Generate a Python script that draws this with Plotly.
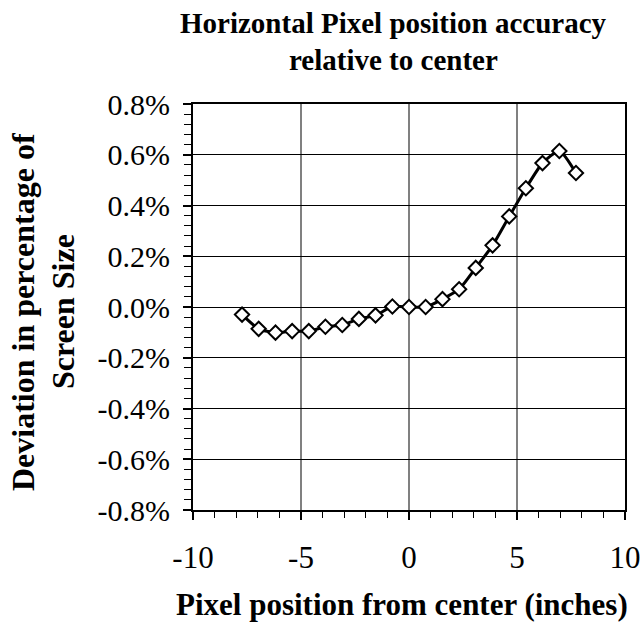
import plotly.graph_objects as go

# Data
x_pos = [-7.73, -6.96, -6.18, -5.41, -4.64, -3.87, -3.09, -2.32, -1.55, -0.77, 0.0,
         0.77, 1.55, 2.32, 3.09, 3.87, 4.64, 5.41, 6.18, 6.96, 7.73]
deviation_pct = [-0.030, -0.086, -0.101, -0.095, -0.095, -0.078, -0.071, -0.047, -0.033, 0.002, 0.0,
                 0.0, 0.031, 0.070, 0.154, 0.243, 0.357, 0.468, 0.567, 0.615, 0.528]

x_tick_vals = [-10, -5, 0, 5, 10]
x_tick_text = ["-10", "-5", "0", "5", "10"]
y_tick_vals = [-0.8, -0.6, -0.4, -0.2, 0.0, 0.2, 0.4, 0.6, 0.8]
y_tick_text = ["-0.8%", "-0.6%", "-0.4%", "-0.2%", "0.0%", "0.2%", "0.4%", "0.6%", "0.8%"]

title_lines = ["Horizontal Pixel position accuracy", "relative to center"]
y_title_lines = ["Deviation in percentage of", "Screen Size"]
x_title = "Pixel position from center (inches)"

FONT = "Liberation Serif"

# plot area in page pixels
PL, PR, PT, PB = 193, 625, 104, 510
PW, PH = PR - PL, PB - PT


def px(xp):
    return (xp - PL) / PW


def py(yp):
    return (PB - yp) / PH


fig = go.Figure()
fig.add_trace(go.Scatter(
    x=x_pos, y=deviation_pct, mode="lines+markers",
    line=dict(color="black", width=3, shape="spline", smoothing=0.6),
    marker=dict(symbol="diamond", size=11, color="white",
                line=dict(color="black", width=2)),
    showlegend=False,
))

W, H = 642, 634
fig.update_layout(
    width=W, height=H, autosize=False,
    margin=dict(l=PL, r=W - PR, t=PT, b=H - PB, autoexpand=False),
    paper_bgcolor="white", plot_bgcolor="white",
    font=dict(family=FONT, color="black", size=31),
    xaxis=dict(
        range=[-10, 10], tickvals=x_tick_vals, ticktext=x_tick_text,
        automargin=False,
        showgrid=True, gridcolor="#808080", gridwidth=2, zeroline=False,
        showline=True, mirror=True, linecolor="black", linewidth=2,
        ticks="outside", ticklen=8, tickwidth=2, tickcolor="black",
        ticklabelstandoff=11, ticklabeloverflow="allow",
        minor=dict(dtick=1, tick0=0, ticks="outside", ticklen=6, tickwidth=1,
                   tickcolor="black", showgrid=False),
        tickfont=dict(size=31, family=FONT),
    ),
    yaxis=dict(
        range=[-0.8, 0.8], tickvals=y_tick_vals, ticktext=y_tick_text,
        automargin=False,
        showgrid=True, gridcolor="black", gridwidth=1, zeroline=False,
        showline=True, mirror=True, linecolor="black", linewidth=2,
        ticks="outside", ticklen=8, tickwidth=2, tickcolor="black",
        ticklabelstandoff=7,
        minor=dict(dtick=0.04, tick0=-0.8, ticks="outside", ticklen=7, tickwidth=1,
                   tickcolor="black", showgrid=False),
        tickfont=dict(size=30, family=FONT),
    ),
)

title_font = dict(family=FONT, size=29, color="black")
fig.add_annotation(text="<b>%s</b>" % title_lines[0], xref="paper", yref="paper",
                   x=px(393), y=py(23), xanchor="center", yanchor="middle",
                   showarrow=False, font=title_font)
fig.add_annotation(text="<b>%s</b>" % title_lines[1], xref="paper", yref="paper",
                   x=px(393), y=py(60), xanchor="center", yanchor="middle",
                   showarrow=False, font=title_font)

ytitle_font = dict(family=FONT, size=32, color="black")
fig.add_annotation(text="<b>%s</b>" % y_title_lines[0], xref="paper", yref="paper",
                   x=px(23), y=py(312), xanchor="center", yanchor="middle",
                   textangle=-90, showarrow=False, font=ytitle_font)
fig.add_annotation(text="<b>%s</b>" % y_title_lines[1], xref="paper", yref="paper",
                   x=px(63), y=py(312), xanchor="center", yanchor="middle",
                   textangle=-90, showarrow=False, font=ytitle_font)

fig.add_annotation(text="<b>%s</b>" % x_title, xref="paper", yref="paper",
                   x=px(402), y=py(604), xanchor="center", yanchor="middle",
                   showarrow=False, font=dict(family=FONT, size=31, color="black"))

fig.write_html(
    "out.html",
    config={"responsive": False, "displayModeBar": False},
    post_script="document.body.style.margin='0';"
                "document.documentElement.style.overflow='hidden';",
)
